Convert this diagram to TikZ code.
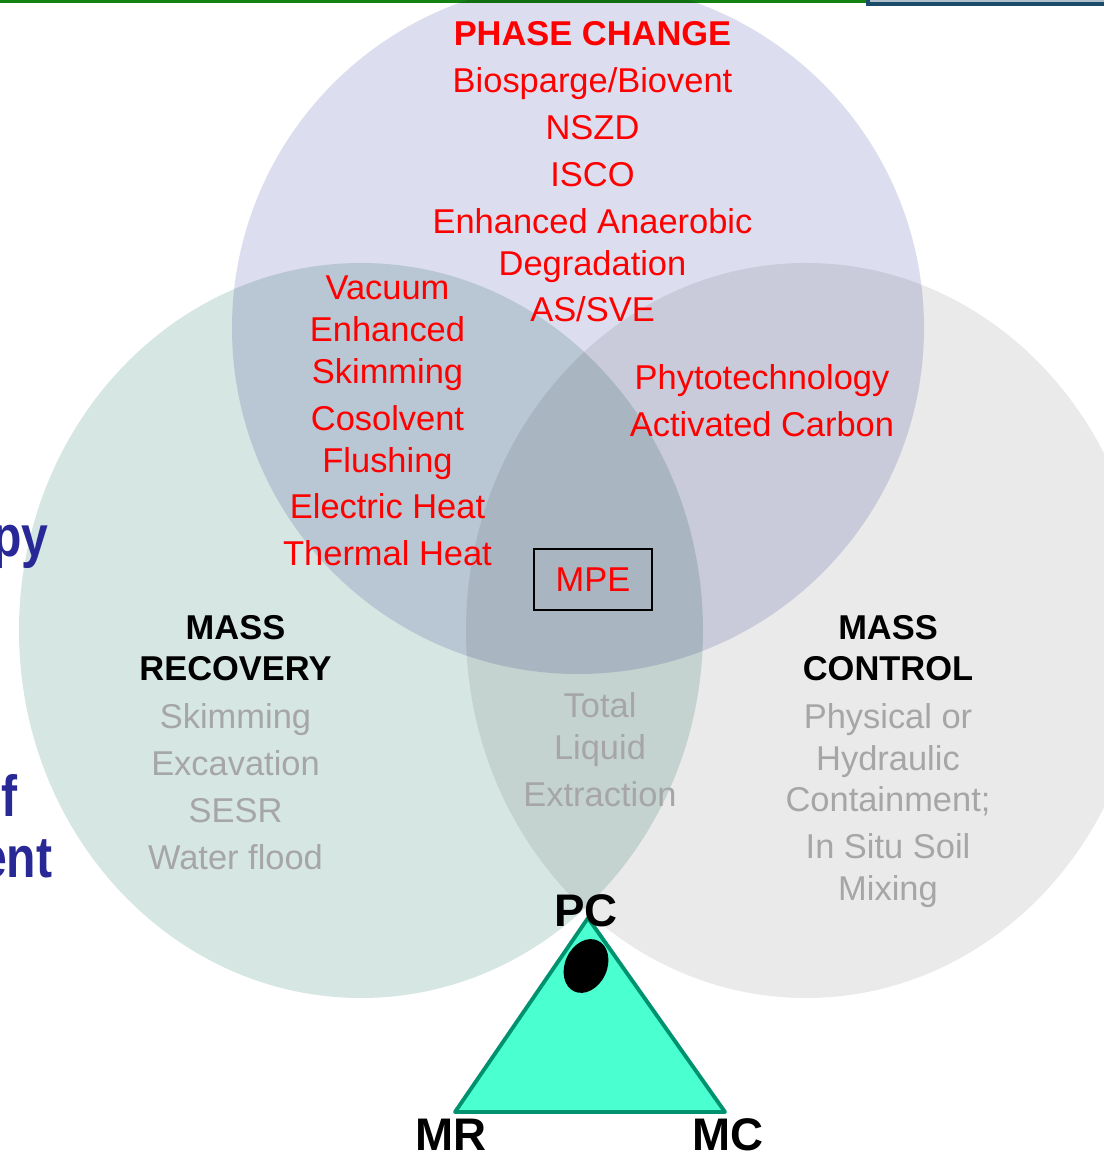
\documentclass[tikz,border=0pt]{standalone}
\usepackage{fontspec}
\setmainfont{Liberation Sans}
\usepackage{xcolor}
\usetikzlibrary{positioning,calc}

\definecolor{pcred}{RGB}{255,0,0}
\definecolor{pclav}{RGB}{220,221,238}
\definecolor{mrgreen}{RGB}{214,230,227}
\definecolor{mcgray}{RGB}{234,234,234}
\definecolor{txtgray}{RGB}{166,166,166}
\definecolor{trifill}{RGB}{74,255,208}
\definecolor{triedge}{RGB}{0,145,110}
\definecolor{barblue}{RGB}{27,75,106}
\definecolor{bargreen}{RGB}{19,130,19}
\definecolor{sidenavy}{RGB}{40,40,150}

\newcommand{\narrowtxt}[1]{\scalebox{0.83}[1]{#1}}

\tikzset{
    venn/.style={blend mode=multiply},
    redtxt/.style={text=pcred, font=\fontsize{9.8}{11}\selectfont, anchor=base, inner sep=0pt},
    headtxt/.style={font=\bfseries\fontsize{9.8}{11}\selectfont, anchor=base, inner sep=0pt},
    graytxt/.style={text=txtgray, font=\fontsize{9.8}{11}\selectfont, anchor=base, inner sep=0pt},
    cornertxt/.style={font=\bfseries\fontsize{13}{15}\selectfont, anchor=base, inner sep=0pt},
    sidetxt/.style={text=sidenavy, font=\bfseries\fontsize{16.5}{18}\selectfont, anchor=base east, inner sep=0pt}
}

\begin{document}
\begin{tikzpicture}
    \useasboundingbox (0,0) rectangle (11.04,11.55);

    % Bandeaux du haut
    \fill[bargreen] (0,11.55) rectangle (8.66,11.52);
    \fill[barblue] (8.66,11.55) rectangle (11.04,11.49);
    \fill[barblue!35!white] (8.70,11.55) rectangle (11.04,11.525);

    % Les trois cercles
    \fill[venn, mrgreen] (3.61,5.245) ellipse [x radius=3.42, y radius=3.675];
    \fill[venn, mcgray] (8.06,5.245) ellipse [x radius=3.40, y radius=3.675];
    \fill[venn, pclav] (5.78,8.27) circle [radius=3.46];

    % Texte coupe a gauche
    \node[sidetxt] (sidea) at (0.49,5.98) {\narrowtxt{py}};
    \node[sidetxt] (sideb) at (0.18,3.38) {\narrowtxt{f}};
    \node[sidetxt] (sidec) at (0.53,2.77) {\narrowtxt{ent}};

    % Phase change
    \node[headtxt, text=pcred] (pchead) at (5.925,11.09) {PHASE CHANGE};
    \foreach \ty/\txt [count=\i] in {10.62/{Biosparge/Biovent}, 10.15/NSZD, 9.68/ISCO,
        9.21/Enhanced Anaerobic, 8.79/Degradation, 8.33/{AS/SVE}}
        \node[redtxt] (pc\i) at (5.925,\ty) {\txt};

    % Phase change + mass recovery
    \foreach \ty/\txt [count=\i] in {8.55/Vacuum, 8.13/Enhanced, 7.71/Skimming, 7.24/Cosolvent,
        6.82/Flushing, 6.36/Electric Heat, 5.89/Thermal Heat}
        \node[redtxt] (pcmr\i) at (3.875,\ty) {\txt};

    % Phase change + mass control
    \node[redtxt] (pcmca) at (7.62,7.65) {Phytotechnology};
    \node[redtxt] (pcmcb) at (7.62,7.18) {Activated Carbon};

    % Centre
    \node[draw, line width=0.65pt, minimum width=1.18cm, minimum height=0.61cm,
        text=pcred, font=\fontsize{9.8}{11}\selectfont] (mpe) at (5.93,5.755) {MPE};

    % Mass recovery
    \node[headtxt] (mrhead) at (2.355,5.15) {MASS};
    \node[headtxt] (mrheadb) at (2.355,4.74) {RECOVERY};
    \foreach \ty/\txt [count=\i] in {4.26/Skimming, 3.79/Excavation, 3.32/SESR, 2.85/Water flood}
        \node[graytxt] (mr\i) at (2.355,\ty) {\txt};

    % Mass recovery + mass control
    \foreach \ty/\txt [count=\i] in {4.37/Total, 3.95/Liquid, 3.48/Extraction}
        \node[graytxt] (mrmc\i) at (6.0,\ty) {\txt};

    % Mass control
    \node[headtxt] (mchead) at (8.88,5.15) {MASS};
    \node[headtxt] (mcheadb) at (8.88,4.74) {CONTROL};
    \foreach \ty/\txt [count=\i] in {4.26/Physical or, 3.84/Hydraulic, 3.43/Containment;,
        2.96/In Situ Soil, 2.54/Mixing}
        \node[graytxt] (mc\i) at (8.88,\ty) {\txt};

    % Triangle
    \coordinate (pcv) at (5.88,2.37);
    \coordinate (mrv) at (4.55,0.43);
    \coordinate (mcv) at (7.25,0.43);
    \filldraw[fill=trifill, draw=triedge, line width=1.1pt, line join=round]
        (pcv) -- (mrv) -- (mcv) -- cycle;
    \fill[black] (5.86,1.89) circle [x radius=0.21, y radius=0.28, rotate=-25];

    \node[cornertxt] (pclab) at (5.86,2.28) {PC};
    \node[cornertxt] (mrlab) at (4.51,0.05) {MR};
    \node[cornertxt] (mclab) at (7.28,0.05) {MC};
\end{tikzpicture}
\end{document}
